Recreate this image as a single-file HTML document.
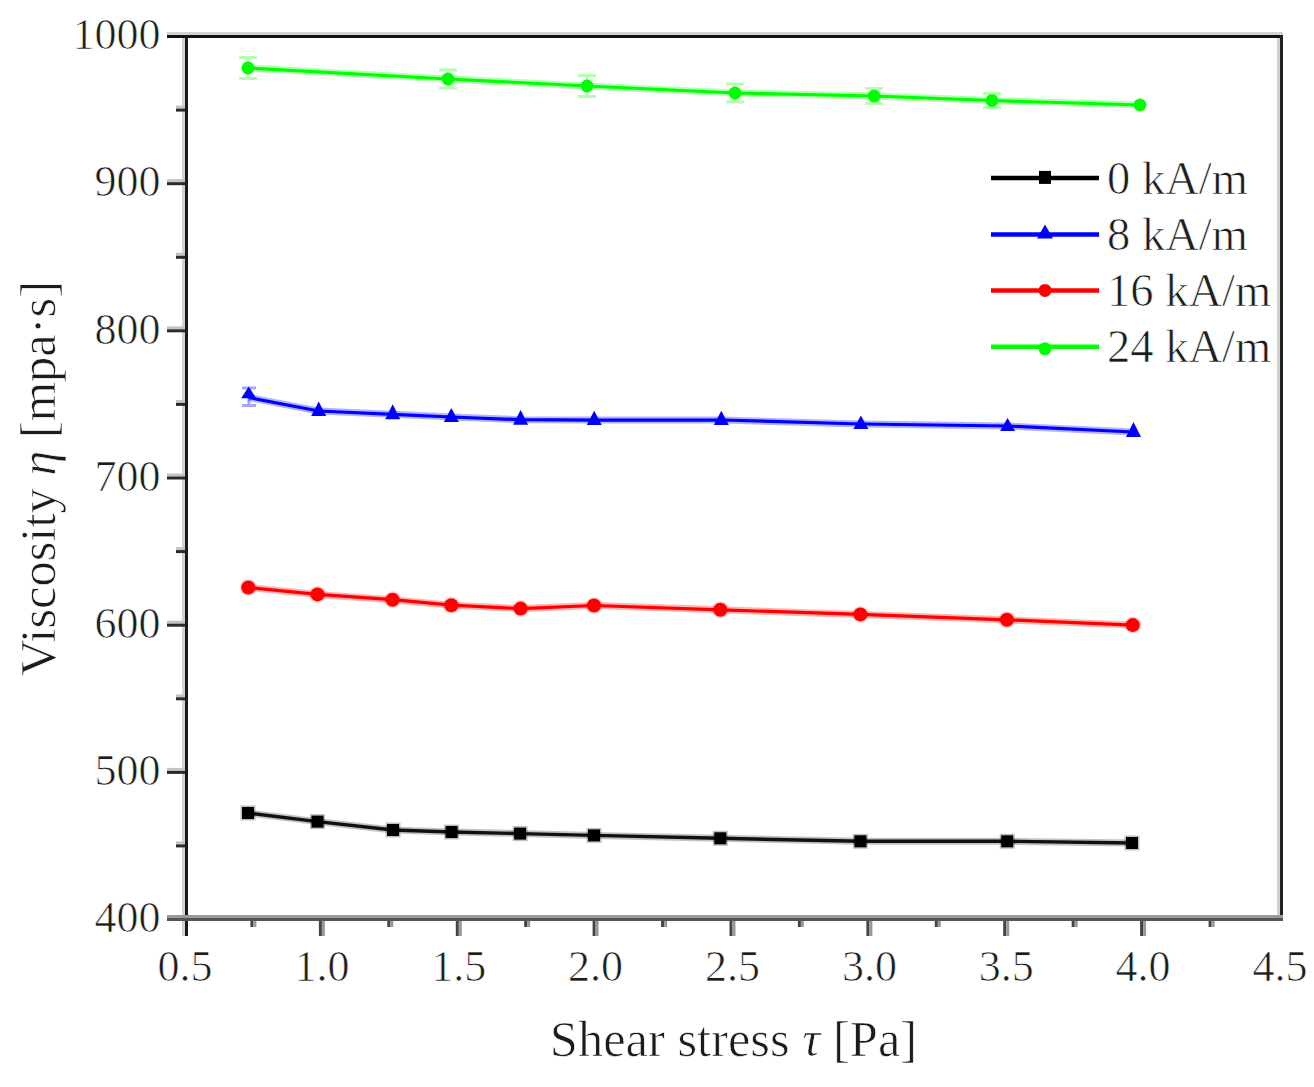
<!DOCTYPE html>
<html><head><meta charset="utf-8"><style>
html,body{margin:0;padding:0;background:#fff;}
svg{display:block;}
text{font-family:"Liberation Serif",serif;stroke:#fff;stroke-width:0.7px;}
</style></head><body>
<svg width="1314" height="1087" viewBox="0 0 1314 1087">
<rect width="1314" height="1087" fill="#fff"/>
<rect x="167" y="32" width="1116" height="3" fill="#d2d2d2"/>
<rect x="167" y="35" width="1116" height="3" fill="#111"/>
<rect x="182" y="38" width="3" height="898" fill="#d2d2d2"/>
<rect x="185" y="35" width="3" height="901" fill="#1a1a1a"/>
<rect x="1277" y="38" width="3" height="880" fill="#cfcfcf"/>
<rect x="1280" y="35" width="3" height="886" fill="#222"/>
<rect x="167" y="915" width="1116" height="3" fill="#999"/>
<rect x="167" y="918" width="1116" height="3" fill="#555"/>
<rect x="176" y="841.4" width="9" height="3" fill="#c4c4c4"/>
<rect x="176" y="844.4" width="9" height="3" fill="#2a2a2a"/>
<rect x="167" y="767.9" width="18" height="3" fill="#c4c4c4"/>
<rect x="167" y="770.9" width="18" height="3" fill="#2a2a2a"/>
<rect x="176" y="694.3" width="9" height="3" fill="#c4c4c4"/>
<rect x="176" y="697.3" width="9" height="3" fill="#2a2a2a"/>
<rect x="167" y="620.7" width="18" height="3" fill="#c4c4c4"/>
<rect x="167" y="623.7" width="18" height="3" fill="#2a2a2a"/>
<rect x="176" y="547.1" width="9" height="3" fill="#c4c4c4"/>
<rect x="176" y="550.1" width="9" height="3" fill="#2a2a2a"/>
<rect x="167" y="473.5" width="18" height="3" fill="#c4c4c4"/>
<rect x="167" y="476.5" width="18" height="3" fill="#2a2a2a"/>
<rect x="176" y="399.9" width="9" height="3" fill="#c4c4c4"/>
<rect x="176" y="402.9" width="9" height="3" fill="#2a2a2a"/>
<rect x="167" y="326.3" width="18" height="3" fill="#c4c4c4"/>
<rect x="167" y="329.3" width="18" height="3" fill="#2a2a2a"/>
<rect x="176" y="252.8" width="9" height="3" fill="#c4c4c4"/>
<rect x="176" y="255.8" width="9" height="3" fill="#2a2a2a"/>
<rect x="167" y="179.2" width="18" height="3" fill="#c4c4c4"/>
<rect x="167" y="182.2" width="18" height="3" fill="#2a2a2a"/>
<rect x="176" y="105.6" width="9" height="3" fill="#c4c4c4"/>
<rect x="176" y="108.6" width="9" height="3" fill="#2a2a2a"/>
<rect x="250.4" y="921" width="3" height="6" fill="#444"/>
<rect x="253.4" y="921" width="3" height="6" fill="#999"/>
<rect x="318.9" y="921" width="3" height="15" fill="#444"/>
<rect x="321.9" y="921" width="3" height="15" fill="#999"/>
<rect x="387.3" y="921" width="3" height="6" fill="#444"/>
<rect x="390.3" y="921" width="3" height="6" fill="#999"/>
<rect x="455.8" y="921" width="3" height="15" fill="#444"/>
<rect x="458.8" y="921" width="3" height="15" fill="#999"/>
<rect x="524.2" y="921" width="3" height="6" fill="#444"/>
<rect x="527.2" y="921" width="3" height="6" fill="#999"/>
<rect x="592.6" y="921" width="3" height="15" fill="#444"/>
<rect x="595.6" y="921" width="3" height="15" fill="#999"/>
<rect x="661.1" y="921" width="3" height="6" fill="#444"/>
<rect x="664.1" y="921" width="3" height="6" fill="#999"/>
<rect x="729.5" y="921" width="3" height="15" fill="#444"/>
<rect x="732.5" y="921" width="3" height="15" fill="#999"/>
<rect x="797.9" y="921" width="3" height="6" fill="#444"/>
<rect x="800.9" y="921" width="3" height="6" fill="#999"/>
<rect x="866.4" y="921" width="3" height="15" fill="#444"/>
<rect x="869.4" y="921" width="3" height="15" fill="#999"/>
<rect x="934.8" y="921" width="3" height="6" fill="#444"/>
<rect x="937.8" y="921" width="3" height="6" fill="#999"/>
<rect x="1003.2" y="921" width="3" height="15" fill="#444"/>
<rect x="1006.2" y="921" width="3" height="15" fill="#999"/>
<rect x="1071.7" y="921" width="3" height="6" fill="#444"/>
<rect x="1074.7" y="921" width="3" height="6" fill="#999"/>
<rect x="1140.1" y="921" width="3" height="15" fill="#444"/>
<rect x="1143.1" y="921" width="3" height="15" fill="#999"/>
<rect x="1208.6" y="921" width="3" height="6" fill="#444"/>
<rect x="1211.6" y="921" width="3" height="6" fill="#999"/>
<text x="160.5" y="932.2" text-anchor="end" font-family="Liberation Serif"  font-size="44" fill="#1c1c1c">400</text>
<text x="160.5" y="785.1" text-anchor="end" font-family="Liberation Serif"  font-size="44" fill="#1c1c1c">500</text>
<text x="160.5" y="637.9" text-anchor="end" font-family="Liberation Serif"  font-size="44" fill="#1c1c1c">600</text>
<text x="160.5" y="490.7" text-anchor="end" font-family="Liberation Serif"  font-size="44" fill="#1c1c1c">700</text>
<text x="160.5" y="343.5" text-anchor="end" font-family="Liberation Serif"  font-size="44" fill="#1c1c1c">800</text>
<text x="160.5" y="196.4" text-anchor="end" font-family="Liberation Serif"  font-size="44" fill="#1c1c1c">900</text>
<text x="160.5" y="49.2" text-anchor="end" font-family="Liberation Serif"  font-size="44" fill="#1c1c1c">1000</text>
<text x="185.0" y="981" text-anchor="middle" font-family="Liberation Serif"  font-size="44" fill="#1c1c1c">0.5</text>
<text x="321.9" y="981" text-anchor="middle" font-family="Liberation Serif"  font-size="44" fill="#1c1c1c">1.0</text>
<text x="458.8" y="981" text-anchor="middle" font-family="Liberation Serif"  font-size="44" fill="#1c1c1c">1.5</text>
<text x="595.6" y="981" text-anchor="middle" font-family="Liberation Serif"  font-size="44" fill="#1c1c1c">2.0</text>
<text x="732.5" y="981" text-anchor="middle" font-family="Liberation Serif"  font-size="44" fill="#1c1c1c">2.5</text>
<text x="869.4" y="981" text-anchor="middle" font-family="Liberation Serif"  font-size="44" fill="#1c1c1c">3.0</text>
<text x="1006.2" y="981" text-anchor="middle" font-family="Liberation Serif"  font-size="44" fill="#1c1c1c">3.5</text>
<text x="1143.1" y="981" text-anchor="middle" font-family="Liberation Serif"  font-size="44" fill="#1c1c1c">4.0</text>
<text x="1280.0" y="981" text-anchor="middle" font-family="Liberation Serif"  font-size="44" fill="#1c1c1c">4.5</text>
<text x="733.5" y="1055.5" text-anchor="middle" font-family="Liberation Serif"  font-size="50.5" fill="#1c1c1c">Shear stress <tspan font-style="italic">&#964;</tspan> [Pa]</text>
<text transform="translate(55,478.5) rotate(-90)" text-anchor="middle" font-family="Liberation Serif"  font-size="50.5" fill="#1c1c1c">Viscosity <tspan font-style="italic">&#951;</tspan> [mpa&#183;s]</text>
<polyline points="248.0,813.0 317.5,821.6 393.0,830.0 451.6,832.0 520.1,833.6 594.0,835.4 720.3,838.3 860.4,841.3 1007.2,841.3 1132.0,843.0" fill="none" stroke="#111" stroke-opacity="0.25" stroke-width="7" stroke-linejoin="round"/><polyline points="248.0,813.0 317.5,821.6 393.0,830.0 451.6,832.0 520.1,833.6 594.0,835.4 720.3,838.3 860.4,841.3 1007.2,841.3 1132.0,843.0" fill="none" stroke="#111" stroke-width="3.4" stroke-linejoin="round"/>
<rect x="240.5" y="805.5" width="15" height="15" fill="#000" fill-opacity="0.25"/>
<rect x="242.0" y="807.0" width="12" height="12" fill="#000"/>
<rect x="310.0" y="814.1" width="15" height="15" fill="#000" fill-opacity="0.25"/>
<rect x="311.5" y="815.6" width="12" height="12" fill="#000"/>
<rect x="385.5" y="822.5" width="15" height="15" fill="#000" fill-opacity="0.25"/>
<rect x="387.0" y="824.0" width="12" height="12" fill="#000"/>
<rect x="444.1" y="824.5" width="15" height="15" fill="#000" fill-opacity="0.25"/>
<rect x="445.6" y="826.0" width="12" height="12" fill="#000"/>
<rect x="512.6" y="826.1" width="15" height="15" fill="#000" fill-opacity="0.25"/>
<rect x="514.1" y="827.6" width="12" height="12" fill="#000"/>
<rect x="586.5" y="827.9" width="15" height="15" fill="#000" fill-opacity="0.25"/>
<rect x="588.0" y="829.4" width="12" height="12" fill="#000"/>
<rect x="712.8" y="830.8" width="15" height="15" fill="#000" fill-opacity="0.25"/>
<rect x="714.3" y="832.3" width="12" height="12" fill="#000"/>
<rect x="852.9" y="833.8" width="15" height="15" fill="#000" fill-opacity="0.25"/>
<rect x="854.4" y="835.3" width="12" height="12" fill="#000"/>
<rect x="999.7" y="833.8" width="15" height="15" fill="#000" fill-opacity="0.25"/>
<rect x="1001.2" y="835.3" width="12" height="12" fill="#000"/>
<rect x="1124.5" y="835.5" width="15" height="15" fill="#000" fill-opacity="0.25"/>
<rect x="1126.0" y="837.0" width="12" height="12" fill="#000"/>
<polyline points="248.3,587.5 317.5,594.4 392.6,599.7 451.3,605.2 520.6,608.6 594.0,605.5 720.3,609.8 860.4,614.4 1006.9,619.8 1132.8,625.1" fill="none" stroke="#f00" stroke-opacity="0.3" stroke-width="7" stroke-linejoin="round"/><polyline points="248.3,587.5 317.5,594.4 392.6,599.7 451.3,605.2 520.6,608.6 594.0,605.5 720.3,609.8 860.4,614.4 1006.9,619.8 1132.8,625.1" fill="none" stroke="#f00" stroke-width="3.2" stroke-linejoin="round"/>
<circle cx="248.3" cy="587.5" r="8.5" fill="#f00" fill-opacity="0.18"/>
<circle cx="248.3" cy="587.5" r="7" fill="#f00"/>
<circle cx="317.5" cy="594.4" r="8.5" fill="#f00" fill-opacity="0.18"/>
<circle cx="317.5" cy="594.4" r="7" fill="#f00"/>
<circle cx="392.6" cy="599.7" r="8.5" fill="#f00" fill-opacity="0.18"/>
<circle cx="392.6" cy="599.7" r="7" fill="#f00"/>
<circle cx="451.3" cy="605.2" r="8.5" fill="#f00" fill-opacity="0.18"/>
<circle cx="451.3" cy="605.2" r="7" fill="#f00"/>
<circle cx="520.6" cy="608.6" r="8.5" fill="#f00" fill-opacity="0.18"/>
<circle cx="520.6" cy="608.6" r="7" fill="#f00"/>
<circle cx="594.0" cy="605.5" r="8.5" fill="#f00" fill-opacity="0.18"/>
<circle cx="594.0" cy="605.5" r="7" fill="#f00"/>
<circle cx="720.3" cy="609.8" r="8.5" fill="#f00" fill-opacity="0.18"/>
<circle cx="720.3" cy="609.8" r="7" fill="#f00"/>
<circle cx="860.4" cy="614.4" r="8.5" fill="#f00" fill-opacity="0.18"/>
<circle cx="860.4" cy="614.4" r="7" fill="#f00"/>
<circle cx="1006.9" cy="619.8" r="8.5" fill="#f00" fill-opacity="0.18"/>
<circle cx="1006.9" cy="619.8" r="7" fill="#f00"/>
<circle cx="1132.8" cy="625.1" r="8.5" fill="#f00" fill-opacity="0.18"/>
<circle cx="1132.8" cy="625.1" r="7" fill="#f00"/>
<polyline points="248.7,397.5 318.7,411.0 392.7,414.3 451.3,417.0 520.6,419.7 594.2,420.1 721.3,420.0 860.9,424.0 1007.6,426.0 1133.5,432.0" fill="none" stroke="#00f" stroke-opacity="0.3" stroke-width="7" stroke-linejoin="round"/><polyline points="248.7,397.5 318.7,411.0 392.7,414.3 451.3,417.0 520.6,419.7 594.2,420.1 721.3,420.0 860.9,424.0 1007.6,426.0 1133.5,432.0" fill="none" stroke="#00f" stroke-width="3.2" stroke-linejoin="round"/>
<polygon points="241.2,398.3 256.2,398.3 248.7,386.4" fill="#00f"/>
<polygon points="311.2,416.0 326.2,416.0 318.7,401.5" fill="#00f"/>
<polygon points="385.2,419.3 400.2,419.3 392.7,404.2" fill="#00f"/>
<polygon points="443.8,422.0 458.8,422.0 451.3,408.0" fill="#00f"/>
<polygon points="513.1,424.7 528.1,424.7 520.6,410.0" fill="#00f"/>
<polygon points="586.7,425.1 601.7,425.1 594.2,410.7" fill="#00f"/>
<polygon points="713.8,425.0 728.8,425.0 721.3,410.7" fill="#00f"/>
<polygon points="853.4,429.0 868.4,429.0 860.9,415.5" fill="#00f"/>
<polygon points="1000.1,431.0 1015.1,431.0 1007.6,418.0" fill="#00f"/>
<polygon points="1126.0,437.0 1141.0,437.0 1133.5,422.0" fill="#00f"/>
<path d="M242,388H256M242,405.5H256M249,388V406" stroke="#00f" stroke-opacity="0.35" stroke-width="3" fill="none"/>
<polyline points="248.0,68.0 448.0,79.0 587.0,86.0 735.0,93.0 874.0,96.0 992.0,100.5 1140.0,105.0" fill="none" stroke="#0f0" stroke-opacity="0.3" stroke-width="7" stroke-linejoin="round"/><polyline points="248.0,68.0 448.0,79.0 587.0,86.0 735.0,93.0 874.0,96.0 992.0,100.5 1140.0,105.0" fill="none" stroke="#0f0" stroke-width="3.2" stroke-linejoin="round"/>
<path d="M248.0,57.5V78.5M239.0,57.5H257.0M239.0,78.5H257.0" stroke="#0f0" stroke-opacity="0.3" stroke-width="3" fill="none"/>
<circle cx="248.0" cy="68.0" r="6.5" fill="#0f0"/>
<path d="M448.0,70.0V88.0M439.0,70.0H457.0M439.0,88.0H457.0" stroke="#0f0" stroke-opacity="0.3" stroke-width="3" fill="none"/>
<circle cx="448.0" cy="79.0" r="6.5" fill="#0f0"/>
<path d="M587.0,75.6V96.4M578.0,75.6H596.0M578.0,96.4H596.0" stroke="#0f0" stroke-opacity="0.3" stroke-width="3" fill="none"/>
<circle cx="587.0" cy="86.0" r="6.5" fill="#0f0"/>
<path d="M735.0,84.0V102.0M726.0,84.0H744.0M726.0,102.0H744.0" stroke="#0f0" stroke-opacity="0.3" stroke-width="3" fill="none"/>
<circle cx="735.0" cy="93.0" r="6.5" fill="#0f0"/>
<path d="M874.0,88.5V103.5M865.0,88.5H883.0M865.0,103.5H883.0" stroke="#0f0" stroke-opacity="0.3" stroke-width="3" fill="none"/>
<circle cx="874.0" cy="96.0" r="6.5" fill="#0f0"/>
<path d="M992.0,93.5V107.5M983.0,93.5H1001.0M983.0,107.5H1001.0" stroke="#0f0" stroke-opacity="0.3" stroke-width="3" fill="none"/>
<circle cx="992.0" cy="100.5" r="6.5" fill="#0f0"/>
<circle cx="1140.0" cy="105.0" r="6.5" fill="#0f0"/>
<line x1="991" y1="177.9" x2="1099" y2="177.9" stroke="#000" stroke-width="4.5"/>
<rect x="1039" y="170.9" width="12" height="13" fill="#000"/>
<text x="1107" y="193.6" font-family="Liberation Serif"  font-size="46.5" fill="#1c1c1c">0 kA/m</text>
<line x1="991" y1="234.5" x2="1099" y2="234.5" stroke="#00f" stroke-width="4.5"/>
<polygon points="1037,238.5 1053,238.5 1045,224.5" fill="#00f"/>
<text x="1107" y="249.8" font-family="Liberation Serif"  font-size="46.5" fill="#1c1c1c">8 kA/m</text>
<line x1="991" y1="290.4" x2="1099" y2="290.4" stroke="#f00" stroke-width="4.5"/>
<circle cx="1045" cy="290.4" r="6.5" fill="#f00"/>
<text x="1107" y="306.0" font-family="Liberation Serif"  font-size="46.5" fill="#1c1c1c">16 kA/m</text>
<line x1="991" y1="346.8" x2="1099" y2="346.8" stroke="#0f0" stroke-width="4.5"/>
<circle cx="1045" cy="348.8" r="6.5" fill="#0f0"/>
<text x="1107" y="362.2" font-family="Liberation Serif"  font-size="46.5" fill="#1c1c1c">24 kA/m</text>
</svg>
</body></html>
